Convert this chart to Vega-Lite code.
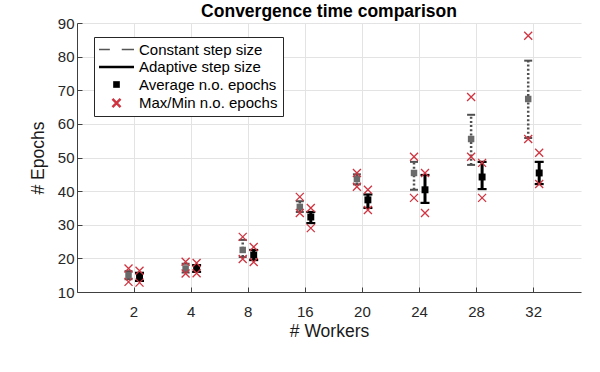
{
  "$schema": "https://vega.github.io/schema/vega-lite/v6.json",
  "autosize": {"type": "none"},
  "padding": {"left": 77, "top": 23, "right": 19, "bottom": 80},
  "width": 504,
  "height": 269,
  "background": "white",
  "title": {"text": "Convergence time comparison", "fontSize": 17.5, "font": "Liberation Sans", "fontWeight": "bold", "color": "#000000", "anchor": "middle", "offset": -4},
  "config": {
    "view": {"stroke": null},
    "font": "Liberation Sans",
    "axis": {"labelFont": "Liberation Sans", "titleFont": "Liberation Sans", "labelFontSize": 15, "titleFontSize": 17.5, "labelColor": "#262626", "titleColor": "#1a1a1a", "titleFontWeight": "normal", "domainColor": "#404040", "tickColor": "#404040", "gridColor": "#e3e3e3", "gridWidth": 1, "labelOverlap": false},
    "axisY": {"labelOverlap": false, "labelSeparation": -30, "grid": true, "tickSize": -5, "labelPadding": 8, "titlePadding": 10, "domainWidth": 1}
  },
  "datasets": {
    "const": [
      {"w": "2", "s": "Constant", "mean": 15.0, "lo": 13.8, "hi": 16.2, "min": 13.0, "max": 17.0},
      {"w": "4", "s": "Constant", "mean": 17.0, "lo": 15.8, "hi": 18.4, "min": 15.5, "max": 19.0},
      {"w": "8", "s": "Constant", "mean": 22.5, "lo": 20.4, "hi": 25.5, "min": 19.8, "max": 26.4},
      {"w": "16", "s": "Constant", "mean": 35.3, "lo": 33.8, "hi": 37.0, "min": 33.5, "max": 38.3},
      {"w": "20", "s": "Constant", "mean": 43.6, "lo": 42.0, "hi": 45.0, "min": 41.3, "max": 45.4},
      {"w": "24", "s": "Constant", "mean": 45.4, "lo": 40.4, "hi": 48.7, "min": 38.0, "max": 50.2},
      {"w": "28", "s": "Constant", "mean": 55.5, "lo": 47.8, "hi": 62.7, "min": 50.2, "max": 68.0},
      {"w": "32", "s": "Constant", "mean": 67.4, "lo": 55.8, "hi": 78.8, "min": 55.5, "max": 86.2}
    ],
    "adapt": [
      {"w": "2", "s": "Adaptive", "mean": 14.5, "lo": 13.3, "hi": 15.7, "min": 12.8, "max": 16.3},
      {"w": "4", "s": "Adaptive", "mean": 17.0, "lo": 16.0, "hi": 18.0, "min": 15.6, "max": 18.6},
      {"w": "8", "s": "Adaptive", "mean": 21.0, "lo": 19.5, "hi": 22.5, "min": 18.9, "max": 23.4},
      {"w": "16", "s": "Adaptive", "mean": 32.3, "lo": 30.5, "hi": 33.8, "min": 29.0, "max": 35.0},
      {"w": "20", "s": "Adaptive", "mean": 37.4, "lo": 35.0, "hi": 39.0, "min": 34.4, "max": 40.4},
      {"w": "24", "s": "Adaptive", "mean": 40.4, "lo": 36.5, "hi": 44.8, "min": 33.5, "max": 45.4},
      {"w": "28", "s": "Adaptive", "mean": 44.2, "lo": 40.6, "hi": 48.7, "min": 38.0, "max": 48.4},
      {"w": "32", "s": "Adaptive", "mean": 45.4, "lo": 42.1, "hi": 48.7, "min": 42.1, "max": 51.4}
    ],
    "legend": [
      {"entry": "Constant step size"},
      {"entry": "Adaptive step size"},
      {"entry": "Average n.o. epochs"},
      {"entry": "Max/Min n.o. epochs"}
    ]
  },
  "encoding": {
    "x": {"field": "w", "type": "nominal",
      "scale": {"type": "band", "domain": ["2", "4", "8", "16", "20", "24", "28", "32"], "paddingInner": 0.615, "paddingOuter": 0.721, "align": 0.559},
      "axis": {"title": "# Workers", "labelAngle": 0, "grid": true, "bandPosition": 0.5, "tickSize": -5, "labelPadding": 17, "titlePadding": 3, "domainWidth": 1}},
    "xOffset": {"field": "s", "type": "nominal", "scale": {"domain": ["Constant", "Adaptive"], "paddingInner": 0, "paddingOuter": 0}}
  },
  "layer": [
    {
      "data": {"name": "const"},
      "mark": {"type": "rule", "stroke": "#505050", "strokeWidth": 2.5, "strokeDash": [2, 2.2]},
      "encoding": {
        "y": {"field": "lo", "type": "quantitative", "scale": {"domain": [10, 90], "nice": false, "zero": false},
          "axis": {"title": "# Epochs", "values": [10, 20, 30, 40, 50, 60, 70, 80, 90], "labelOverlap": false}},
        "y2": {"field": "hi"}
      }
    },
    {
      "data": {"name": "const"},
      "mark": {"type": "tick", "color": "#505050", "size": 8, "thickness": 2, "opacity": 1},
      "encoding": {"y": {"field": "lo", "type": "quantitative", "axis": {"title": "# Epochs", "values": [10, 20, 30, 40, 50, 60, 70, 80, 90], "labelOverlap": false}}}
    },
    {
      "data": {"name": "const"},
      "mark": {"type": "tick", "color": "#505050", "size": 8, "thickness": 2, "opacity": 1},
      "encoding": {"y": {"field": "hi", "type": "quantitative", "axis": {"title": "# Epochs", "values": [10, 20, 30, 40, 50, 60, 70, 80, 90], "labelOverlap": false}}}
    },
    {
      "data": {"name": "const"},
      "mark": {"type": "point", "shape": "square", "filled": true, "color": "#6a6a6a", "size": 42, "opacity": 1},
      "encoding": {"y": {"field": "mean", "type": "quantitative", "axis": {"title": "# Epochs", "values": [10, 20, 30, 40, 50, 60, 70, 80, 90], "labelOverlap": false}}}
    },
    {
      "data": {"name": "adapt"},
      "mark": {"type": "rule", "stroke": "#000000", "strokeWidth": 3},
      "encoding": {
        "y": {"field": "lo", "type": "quantitative", "axis": {"title": "# Epochs", "values": [10, 20, 30, 40, 50, 60, 70, 80, 90], "labelOverlap": false}},
        "y2": {"field": "hi"}
      }
    },
    {
      "data": {"name": "adapt"},
      "mark": {"type": "tick", "color": "#000000", "size": 9, "thickness": 2.2, "opacity": 1},
      "encoding": {"y": {"field": "lo", "type": "quantitative", "axis": {"title": "# Epochs", "values": [10, 20, 30, 40, 50, 60, 70, 80, 90], "labelOverlap": false}}}
    },
    {
      "data": {"name": "adapt"},
      "mark": {"type": "tick", "color": "#000000", "size": 9, "thickness": 2.2, "opacity": 1},
      "encoding": {"y": {"field": "hi", "type": "quantitative", "axis": {"title": "# Epochs", "values": [10, 20, 30, 40, 50, 60, 70, 80, 90], "labelOverlap": false}}}
    },
    {
      "data": {"name": "adapt"},
      "mark": {"type": "point", "shape": "square", "filled": true, "color": "#000000", "size": 48, "opacity": 1},
      "encoding": {"y": {"field": "mean", "type": "quantitative", "axis": {"title": "# Epochs", "values": [10, 20, 30, 40, 50, 60, 70, 80, 90], "labelOverlap": false}}}
    },
    {
      "data": {"name": "const"},
      "mark": {"type": "point", "shape": "M-1,-1L1,1M-1,1L1,-1", "filled": false, "stroke": "#cf3440", "strokeWidth": 1.3, "size": 64, "opacity": 1},
      "encoding": {"y": {"field": "min", "type": "quantitative", "axis": {"title": "# Epochs", "values": [10, 20, 30, 40, 50, 60, 70, 80, 90], "labelOverlap": false}}}
    },
    {
      "data": {"name": "const"},
      "mark": {"type": "point", "shape": "M-1,-1L1,1M-1,1L1,-1", "filled": false, "stroke": "#cf3440", "strokeWidth": 1.3, "size": 64, "opacity": 1},
      "encoding": {"y": {"field": "max", "type": "quantitative", "axis": {"title": "# Epochs", "values": [10, 20, 30, 40, 50, 60, 70, 80, 90], "labelOverlap": false}}}
    },
    {
      "data": {"name": "adapt"},
      "mark": {"type": "point", "shape": "M-1,-1L1,1M-1,1L1,-1", "filled": false, "stroke": "#cf3440", "strokeWidth": 1.3, "size": 64, "opacity": 1},
      "encoding": {"y": {"field": "min", "type": "quantitative", "axis": {"title": "# Epochs", "values": [10, 20, 30, 40, 50, 60, 70, 80, 90], "labelOverlap": false}}}
    },
    {
      "data": {"name": "adapt"},
      "mark": {"type": "point", "shape": "M-1,-1L1,1M-1,1L1,-1", "filled": false, "stroke": "#cf3440", "strokeWidth": 1.3, "size": 64, "opacity": 1},
      "encoding": {"y": {"field": "max", "type": "quantitative", "axis": {"title": "# Epochs", "values": [10, 20, 30, 40, 50, 60, 70, 80, 90], "labelOverlap": false}}}
    },
    {
      "data": {"name": "legend"},
      "mark": {"type": "point", "filled": true, "opacity": 0},
      "encoding": {
        "x": {"value": 0},
        "xOffset": {"value": 0},
        "y": {"value": 0},
        "shape": {"field": "entry", "type": "nominal",
          "scale": {"domain": ["Constant step size", "Adaptive step size", "Average n.o. epochs", "Max/Min n.o. epochs"],
            "range": [
              "M-3,-0.135L-1.14,-0.135L-1.14,0.135L-3,0.135Z M0.9,-0.135L3,-0.135L3,0.135L0.9,0.135Z",
              "M-3,-0.21L3,-0.21L3,0.21L-3,0.21Z",
              "M-0.57,-0.57L0.57,-0.57L0.57,0.57L-0.57,0.57Z",
              "M-0.54,-0.84L0.84,0.54L0.54,0.84L-0.84,-0.54Z M-0.54,0.84L-0.84,0.54L0.54,-0.84L0.84,-0.54Z"
            ]},
          "legend": {
            "title": null, "orient": "none", "legendX": 17, "legendY": 14,
            "strokeColor": "#262626", "fillColor": "#ffffff", "padding": 5,
            "symbolSize": 136, "symbolOffset": 10, "rowPadding": 1.5,
            "labelFont": "Liberation Sans", "labelFontSize": 15, "labelColor": "#000000", "labelOffset": 15,
            "symbolOpacity": 1
          }},
        "color": {"field": "entry", "type": "nominal",
          "scale": {"domain": ["Constant step size", "Adaptive step size", "Average n.o. epochs", "Max/Min n.o. epochs"],
            "range": ["#555555", "#000000", "#000000", "#cf3440"]}}
      }
    }
  ]
}
